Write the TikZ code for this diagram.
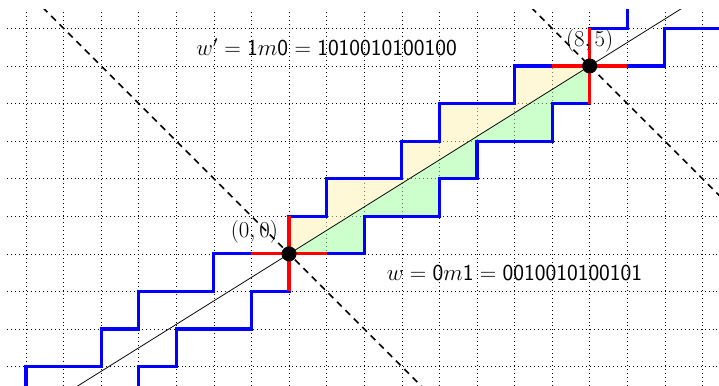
\documentclass[tikz,border=0pt]{standalone}
\usepackage{amsmath}
\usepackage{tikz}
\usetikzlibrary{positioning}
\definecolor{fillyellow}{HTML}{FFF2AD}
\definecolor{fillgreen}{HTML}{99FF99}
\tikzset{
	latticepath/.style={blue, line width=2.4pt},
	crossline/.style={red, line width=2.4pt},
	mirrorline/.style={line width=1.2pt, dash pattern=on 5pt off 4pt},
	pointlabel/.style={font=\LARGE},
	wordlabel/.style={font=\fontsize{18}{22}\selectfont},
}
\newcommand{\wordup}{1,0,1,0,0,1,0,1,0,0,1,0,0}
\newcommand{\worddown}{0,0,1,0,0,1,0,1,0,0,1,0,1}

\begin{document}
\begin{tikzpicture}
	\useasboundingbox (-7.69,-3.51) rectangle (11.44,6.755);
	\coordinate (O) at (0,0);
	\coordinate (P) at (8,5);
	\begin{scope}
		\clip (-7.5,-3.5) rectangle (11.5,6.5);
		\draw[line width=0.4pt, dash pattern=on 0.4pt off 2.6pt] (-7.5,-3.5) grid (11.5,6.5);
		% one period between the two lattice paths
		\fill[fillyellow, fill opacity=0.5] (O) \foreach \c in \wordup {-- ++({1-\c},\c)} -- cycle;
		\fill[fillgreen, fill opacity=0.5] (O) \foreach \c in \worddown {-- ++({1-\c},\c)} -- cycle;
		\draw[line width=0.6pt] (-8,-5) -- (16,10);
		\draw[mirrorline] (-7,7) -- (4,-4);
		\draw[mirrorline] (6,7) -- (14,-1);
		\draw[latticepath] (-8,-5) \foreach \r in {1,2,3} {\foreach \c in \wordup {-- ++({1-\c},\c)}};
		\draw[latticepath] (-8,-5) \foreach \r in {1,2,3} {\foreach \c in \worddown {-- ++({1-\c},\c)}};
	\end{scope}
	\foreach \pt in {O,P} {
		\draw[crossline] ([xshift=-1cm]\pt) -- ([xshift=1cm]\pt) ([yshift=-1cm]\pt) -- ([yshift=1cm]\pt);
		\fill (\pt) circle (0.2);
	}
	\node[pointlabel, above left=0.16cm and 0.17cm of O] (labelO) {$(0,0)$};
	\node[pointlabel, above=0.24cm of P] (labelP) {$(8,5)$};
	\node[wordlabel] (wordtop) at (1,5.5) {$w' = \mathsf{1}m\mathsf{0} = \mathsf{1010010100100}$};
	\node[wordlabel] (wordbottom) at (6,-0.5) {$w = \mathsf{0}m\mathsf{1} = \mathsf{0010010100101}$};
\end{tikzpicture}
\end{document}
